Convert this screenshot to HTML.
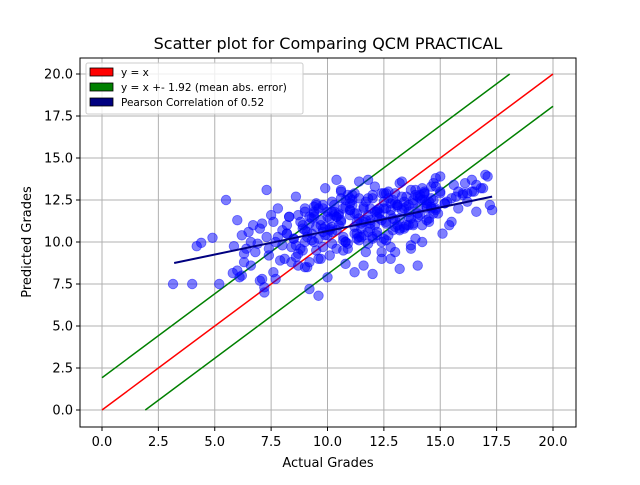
<!DOCTYPE html>
<html><head><meta charset="utf-8"><style>
body{margin:0;background:#fff;}
svg text{font-family:"DejaVu Sans","Liberation Sans",sans-serif;fill:#000;}
</style></head><body>
<svg id="chart" width="640" height="480" viewBox="0 0 640 480" xmlns="http://www.w3.org/2000/svg">
<rect width="640" height="480" fill="#fff"/>
<g id="grid"></g>
<g id="lines"></g>
<g id="points"></g>
<g id="reg"></g>
<rect x="80" y="58" width="496" height="369" fill="none" stroke="#000" stroke-width="1"/>
<g id="ticks"></g>
<text x="328" y="49" text-anchor="middle" font-size="16">Scatter plot for Comparing QCM PRACTICAL</text>
<text x="328" y="467" text-anchor="middle" font-size="13">Actual Grades</text>
<text x="31" y="242" text-anchor="middle" font-size="13" transform="rotate(-90 31 242)">Predicted Grades</text>
<g>
<rect x="86" y="63" width="217" height="51" rx="2" fill="#fff" fill-opacity="0.8" stroke="#ccc"/>
<g><rect x="90" y="68" width="23" height="8" fill="red" stroke="#000" stroke-width="0.8"/><text x="121" y="76" font-size="10.5">y = x</text></g>
<g><rect x="90" y="83" width="23" height="8" fill="green" stroke="#000" stroke-width="0.8"/><text x="121" y="91" font-size="10.5">y = x +- 1.92 (mean abs. error)</text></g>
<g><rect x="90" y="98" width="23" height="8" fill="navy" stroke="#000" stroke-width="0.8"/><text x="121" y="106" font-size="10.5">Pearson Correlation of 0.52</text></g>
</g>
</svg>
<script>
const xTicks=[0,2.5,5,7.5,10,12.5,15,17.5,20];
const yTicks=[0,2.5,5,7.5,10,12.5,15,17.5,20];
const mae=1.92;
const regX=[3.2,17.3];
const regY=[8.75,12.7];
const actual=[3.15,4.0,4.2,4.4,4.9,5.2,5.5,5.8,5.85,6.0,6.1,6.2,6.3,6.4,6.5,6.6,6.7,6.8,6.9,7.0,7.1,7.2,7.3,7.4,7.5,7.6,7.7,7.8,7.9,8.0,8.1,8.2,8.3,8.4,8.5,8.6,8.7,8.8,8.9,9.0,9.1,9.2,9.3,9.4,9.5,9.6,9.7,9.8,9.9,10.0,10.1,10.2,10.3,10.4,10.5,10.6,10.7,10.8,10.9,11.0,11.1,11.2,11.3,11.4,11.5,11.6,11.7,11.8,11.9,12.0,12.1,12.2,12.3,12.4,12.5,12.6,12.7,12.8,12.9,13.0,13.1,13.2,13.3,13.4,13.5,13.6,13.7,13.8,13.9,14.0,14.1,14.2,14.3,14.4,14.5,14.6,14.7,14.8,14.9,15.0,15.2,15.4,15.6,15.8,16.0,16.2,16.4,16.6,16.8,17.0,17.2,17.3,
6.0,6.3,6.6,7.0,7.3,7.6,8.0,8.3,8.6,8.9,9.2,9.5,9.8,10.1,10.4,10.7,11.0,11.3,11.6,11.9,12.2,12.5,12.8,13.1,13.4,13.7,14.0,14.3,14.6,15.0,15.5,16.0,16.5,
7.2,7.7,8.2,8.7,9.0,9.3,9.6,9.9,10.2,10.5,10.8,11.1,11.4,11.7,12.0,12.3,12.6,12.9,13.2,13.5,13.8,14.1,14.4,14.7,15.1,15.7,16.2,
8.8,9.1,9.4,9.7,10.0,10.3,10.6,10.9,11.2,11.5,11.8,12.1,12.4,12.7,13.0,13.3,13.6,13.9,14.2,14.5,14.8,
9.0,9.4,9.8,10.2,10.6,11.0,11.4,11.8,12.2,12.6,13.0,13.4,13.8,14.2,14.6,15.3,16.1,
6.2,7.1,8.4,9.2,9.6,10.0,10.4,10.8,11.2,11.6,12.0,12.4,12.8,13.2,14.0,
8.5,8.9,9.3,9.7,10.1,10.5,10.9,11.3,11.7,12.1,12.5,12.9,13.3,13.7,14.1,14.5,
8.7,9.1,9.5,9.9,10.3,10.7,11.1,11.5,11.9,12.3,12.7,13.1,13.5,13.9,14.3,14.7,
9.0,9.4,9.8,10.2,10.6,11.0,11.4,11.8,12.2,12.6,13.0,13.4,13.8,14.2,14.6,15.0,
9.2,9.6,10.0,10.4,10.8,11.2,11.6,12.0,12.4,12.8,13.2,13.6,14.0,14.4,14.8,
7.4,7.8,8.2,8.6,9.0,9.4,9.8,10.2,10.6,11.0,11.4,11.8,12.2,12.6,13.0,
10.4,10.8,11.2,11.6,12.0,12.4,12.8,13.2,13.6,14.0,14.4,14.8,15.2,15.8,16.4,16.9,
9.5,10.1,10.7,11.3,11.9,12.5,13.1,13.7,14.3,15.5,16.6,17.1];
const predicted=[7.5,7.5,9.75,9.95,10.25,7.5,12.5,8.15,9.75,11.3,7.9,10.4,8.8,9.6,10.6,8.6,11.0,9.4,9.9,10.8,11.1,7.3,13.1,9.6,11.6,8.2,10.0,12.0,8.9,10.7,9.0,10.5,11.5,9.7,10.2,12.7,8.6,11.2,9.5,12.0,10.3,8.8,11.4,10.0,12.3,9.0,11.0,10.6,13.2,11.8,9.2,10.9,12.2,11.5,11.0,13.0,10.1,12.5,9.6,11.9,12.8,10.5,11.7,13.6,10.8,12.1,9.4,12.6,11.3,10.3,13.3,11.9,12.0,9.0,12.4,11.1,13.0,11.6,10.7,12.9,12.2,11.4,13.6,10.9,12.7,11.8,9.8,12.3,13.1,11.5,12.6,10.0,13.0,12.1,11.2,13.3,12.5,13.8,11.7,12.9,12.3,11.0,13.4,12.0,12.8,12.4,13.0,11.8,13.2,14.0,12.2,11.9,
8.3,9.3,10.0,7.7,10.3,11.2,9.8,11.5,9.1,10.8,11.5,9.5,12.0,10.7,11.5,9.5,11.6,10.2,12.0,10.8,11.8,10.2,12.3,11.0,12.0,9.6,11.7,12.5,12.0,13.0,12.6,12.9,13.0,
7.0,7.8,10.5,9.3,11.8,10.1,12.0,10.4,9.9,11.7,10.0,12.2,10.3,11.3,12.6,11.7,11.2,12.5,10.7,12.1,11.0,12.8,12.0,13.5,10.5,12.7,12.9,
9.6,8.5,12.1,9.0,10.4,11.6,12.6,9.9,12.9,10.3,9.9,11.0,12.9,10.4,11.3,11.9,12.2,10.2,12.5,11.4,12.0,
8.5,11.7,9.7,10.6,11.2,12.3,10.1,11.6,10.6,12.0,10.9,12.4,11.1,11.0,12.6,12.4,13.5,
8.0,7.8,8.8,7.2,6.8,7.9,13.7,8.7,8.2,8.6,8.1,9.4,9.0,8.4,8.6,
10.2,11.0,10.5,11.3,10.8,11.6,12.8,11.2,12.4,11.8,12.9,11.4,12.7,13.1,11.6,12.4,
11.6,10.6,12.2,10.9,11.8,10.3,12.5,11.1,12.0,11.4,12.6,12.2,11.0,12.8,12.9,11.7,
10.0,11.8,10.8,12.4,11.3,11.9,12.6,10.6,11.5,12.9,12.3,10.8,12.5,13.2,12.1,13.9,
11.1,10.2,11.5,9.6,12.1,10.9,11.2,12.8,10.0,11.9,13.5,11.5,12.7,11.3,13.3,
9.2,10.3,11.0,9.8,10.7,11.5,12.2,11.8,13.1,12.6,11.4,13.7,10.4,10.1,9.4,
10.7,10.0,11.7,10.4,10.2,11.3,9.7,10.8,11.0,12.0,12.3,11.9,12.3,13.0,13.7,13.2,
10.9,11.4,12.0,10.5,11.1,12.0,12.1,11.4,12.9,11.2,13.4,13.9];
const X0=102,XS=22.55,Y0=410,YS=16.8;
const sx=v=>X0+v*XS, sy=v=>Y0-v*YS;
const NS='http://www.w3.org/2000/svg';
function mk(t,a,p){const e=document.createElementNS(NS,t);for(const k in a)e.setAttribute(k,a[k]);p.appendChild(e);return e;}
const grid=document.getElementById('grid'),ticks=document.getElementById('ticks');
xTicks.forEach(v=>{
 const g=mk('line',{x1:sx(v),x2:sx(v),y1:58,y2:427,stroke:'#b0b0b0','stroke-width':1},grid);
 
 
 const t=mk('line',{x1:sx(v),x2:sx(v),y1:427,y2:431,stroke:'#000'},ticks);
 
 
 const l=mk('text',{x:sx(v),y:446,'text-anchor':'middle','font-size':13},ticks);l.textContent=v.toFixed(1);
 
 
});
yTicks.forEach(v=>{
 const g=mk('line',{x1:80,x2:576,y1:sy(v),y2:sy(v),stroke:'#b0b0b0','stroke-width':1},grid);
 
 
 const t=mk('line',{x1:76,x2:80,y1:sy(v),y2:sy(v),stroke:'#000'},ticks);
 
 
 const l=mk('text',{x:73,y:sy(v)+4.5,'text-anchor':'end','font-size':13},ticks);l.textContent=v.toFixed(1);
 
 
});
const lines=document.getElementById('lines');
const a=mk('line',{x1:sx(0),y1:sy(0),x2:sx(20),y2:sy(20),stroke:'red','stroke-width':1.5},lines);


const b=mk('line',{x1:sx(0),y1:sy(mae),x2:sx(20-mae),y2:sy(20),stroke:'green','stroke-width':1.5},lines);


const c=mk('line',{x1:sx(mae),y1:sy(0),x2:sx(20),y2:sy(20-mae),stroke:'green','stroke-width':1.5},lines);


const pts=document.getElementById('points');
const n=Math.min(actual.length,predicted.length);
for(let i=0;i<n;i++){
 const p=mk('circle',{cx:sx(actual[i]),cy:sy(predicted[i]),r:4.8,fill:'blue','fill-opacity':0.5,stroke:'blue','stroke-opacity':0.5,'stroke-width':0.8},pts);
 
 
}
const r=mk('line',{x1:sx(regX[0]),y1:sy(regY[0]),x2:sx(regX[1]),y2:sy(regY[1]),stroke:'navy','stroke-width':2},document.getElementById('reg'));


</script>
</body></html>
